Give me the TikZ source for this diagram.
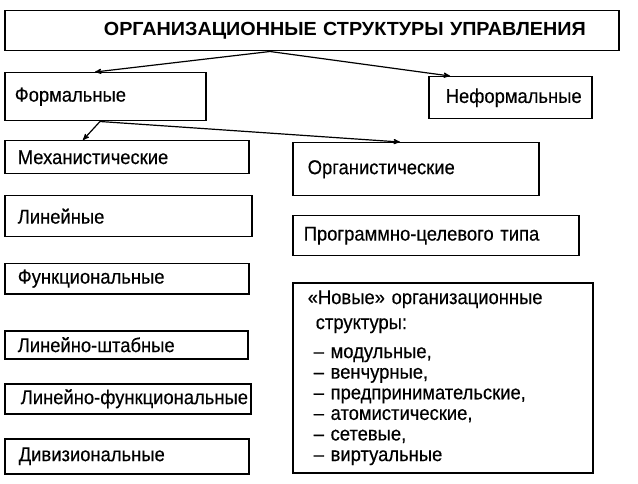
\documentclass[tikz,border=0pt]{standalone}
\usepackage{fontspec}
\setmainfont{Liberation Sans}[FakeStretch=0.92,FakeBold=0.3]
\newfontfamily\titlefont{Liberation Sans}[FakeStretch=1.04]
\usetikzlibrary{calc}
\usetikzlibrary{arrows}
\usetikzlibrary{positioning}
\hyphenpenalty=10000
\exhyphenpenalty=10000

\begin{document}
\begin{tikzpicture}[->,>=stealth',x=1pt,y=-1pt,
	  box node/.style={draw,-,line width=1.5pt,anchor=north west,align=left,inner xsep=0pt,
	    font=\fontsize{20}{20.6}\selectfont},
	  link/.style={line width=1.2pt}]
	\useasboundingbox (0,0) rectangle (638,484);

	% top level
	\node[box node, minimum width=614, minimum height=40, text width=548, align=right,
	  font=\titlefont\bfseries\fontsize{19}{20}\selectfont] (title) at (4,10)
	  {ОРГАНИЗАЦИОННЫЕ СТРУКТУРЫ УПРАВЛЕНИЯ};
	\node[box node, minimum width=201, minimum height=48, text width=181] (formal) at (4,72) {Формальные};
	\node[box node, minimum width=163, minimum height=42, text width=129] (neformal) at (428,76) {Неформальные};

	% left column
	\node[box node, minimum width=244, minimum height=33, text width=218] (mech) at (4,140) {Механистические};
	\node[box node, minimum width=247, minimum height=41, text width=221] (lin) at (4,195) {Линейные};
	\node[box node, minimum width=244, minimum height=30, text width=218] (func) at (4,263) {Функциональные};
	\node[box node, minimum width=243, minimum height=28, text width=217] (linsht) at (4,330) {Линейно-штабные};
	\node[box node, minimum width=246, minimum height=30, text width=214] (linfunc) at (4,383) {Линейно-функциональные};
	\node[box node, minimum width=244, minimum height=35, text width=216] (div) at (4,438) {Дивизиональные};

	% right column
	\node[box node, minimum width=246, minimum height=53, text width=216] (organ) at (292,142) {Органистические};
	\node[box node, minimum width=286, minimum height=40, text width=264] (prog) at (292,215) {Программно-целевого типа};
	\node[box node, minimum width=300, minimum height=190, text width=270] (novye) at (292,282)
	  {«Новые» организационные\\[4.4pt]
	   \hspace*{8pt}структуры:\\[8.4pt]
	   \hspace*{6pt}-- модульные,\\
	   \hspace*{6pt}-- венчурные,\\
	   \hspace*{6pt}-- предпринимательские,\\
	   \hspace*{6pt}-- атомистические,\\
	   \hspace*{6pt}-- сетевые,\\
	   \hspace*{6pt}-- виртуальные};

	\path[link]
	  ($(title.south west)+(266,0)$) edge ($(formal.north west)+(91,0)$)
	  ($(title.south west)+(266,0)$) edge ($(neformal.north west)+(22,0)$)
	  ($(formal.south west)+(96,0)$) edge ($(mech.north west)+(79,0)$)
	  ($(formal.south west)+(96,0)$) edge ($(organ.north west)+(108,0)$)
;
\end{tikzpicture}
\end{document}
